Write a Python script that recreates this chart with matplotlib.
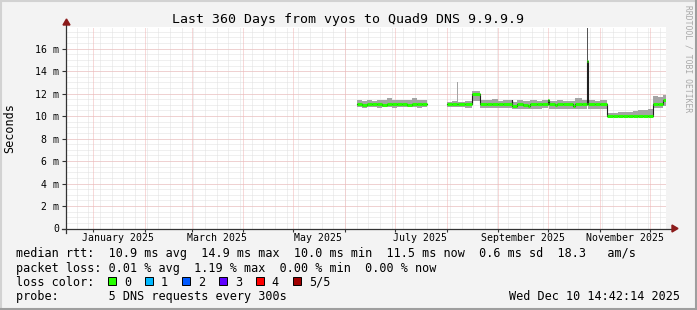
import numpy as np
import pandas as pd
import matplotlib
matplotlib.use("Agg")
import matplotlib.pyplot as plt
from matplotlib.patches import Rectangle

# ---- data (ms), interval starts; NaN marks a gap / end of data ----
starts = [
    "2025-06-08", "2025-06-11", "2025-06-14", "2025-06-17", "2025-06-20",
    "2025-06-23", "2025-06-26", "2025-06-29", "2025-07-02", "2025-07-05",
    "2025-07-08", "2025-07-11", "2025-07-14", "2025-07-17", "2025-07-20",
    "2025-08-01", "2025-08-04", "2025-08-07 12:00", "2025-08-08", "2025-08-12",
    "2025-08-16", "2025-08-21", "2025-08-25", "2025-08-28", "2025-09-01",
    "2025-09-04", "2025-09-09", "2025-09-09 12:00", "2025-09-12", "2025-09-16",
    "2025-09-19", "2025-09-20", "2025-09-24", "2025-09-27", "2025-10-01",
    "2025-10-01 12:00", "2025-10-05", "2025-10-06", "2025-10-10", "2025-10-16",
    "2025-10-17", "2025-10-21", "2025-10-24", "2025-10-25", "2025-10-29",
    "2025-11-01", "2025-11-05", "2025-11-09", "2025-11-12", "2025-11-15",
    "2025-11-18", "2025-11-21", "2025-11-24", "2025-11-27", "2025-11-30",
    "2025-12-03", "2025-12-06", "2025-12-09", "2025-12-10 14:42:14",
]
nan = np.nan
median = [
    11.05, 11.0, 11.05, 11.05, 11.05, 11.0, 11.05, 11.05, 11.05, 11.05,
    11.0, 11.05, 11.05, 11.05, nan,
    11.05, 11.05, 11.05, 11.05, 11.05, 11.95, 11.05, 11.05, 11.05, 11.05,
    11.05, 11.45, 10.87, 11.05, 11.0, 10.9, 11.05, 11.05, 11.05, 11.4,
    11.05, 10.95, 11.05, 11.05, 10.9, 11.05, 11.05, 14.9, 11.05, 11.05,
    11.05, 10.0, 10.0, 9.97, 10.0, 10.0, 10.0, 10.02, 10.0, 10.0,
    11.05, 11.05, 11.45, nan,
]
smoke_hi = [
    11.45, 11.35, 11.45, 11.35, 11.4, 11.4, 11.6, 11.45, 11.4, 11.4,
    11.45, 11.65, 11.4, 11.4, nan,
    11.3, 11.35, 13.05, 11.3, 11.35, 12.2, 11.4, 11.45, 11.55, 11.35,
    11.4, 12.0, 11.3, 11.4, 11.35, 11.35, 11.4, 11.35, 11.4, 11.5,
    11.35, 11.35, 11.4, 11.35, 11.35, 11.6, 11.4, 17.85, 11.45, 11.35,
    11.4, 10.28, 10.3, 10.35, 10.4, 10.37, 10.45, 10.5, 10.58, 10.62,
    11.8, 11.7, 11.85, nan,
]
smoke_lo = [
    10.8, 10.75, 10.8, 10.8, 10.75, 10.8, 10.8, 10.75, 10.8, 10.8,
    10.8, 10.8, 10.75, 10.8, nan,
    10.8, 10.8, 10.8, 10.8, 10.75, 11.35, 10.7, 10.75, 10.7, 10.7,
    10.75, 10.9, 10.6, 10.6, 10.6, 10.6, 10.65, 10.65, 10.7, 10.9,
    10.65, 10.65, 10.65, 10.6, 10.6, 10.65, 10.65, 10.9, 10.65, 10.65,
    10.6, 9.88, 9.88, 9.88, 9.88, 9.88, 9.88, 9.9, 9.9, 9.9,
    10.7, 10.75, 10.9, nan,
]
loss = [0] * 26 + [1] + [0] * 32

# dense smoke of the October spike
burst_start = ["2025-10-24"]
burst_end = ["2025-10-25"]
burst_lo = [11.0]
burst_hi = [17.85]

loss_labels = ["0", "1", "2", "3", "4", "5/5"]
loss_colors = ["#26ff00", "#00b8ff", "#0059ff", "#5e00ff", "#ff0000", "#a00000"]

t_start = pd.Timestamp("2024-12-15 14:42:14")
t_end = pd.Timestamp("2025-12-10 14:42:14")
month_labels = ["2025-01-16", "2025-03-16", "2025-05-16", "2025-07-16", "2025-09-16", "2025-11-16"]

title = "Last 360 Days from vyos to Quad9 DNS 9.9.9.9"
legend_rows = [
    "median rtt:  10.9 ms avg  14.9 ms max  10.0 ms min  11.5 ms now  0.6 ms sd  18.3   am/s",
    "packet loss: 0.01 % avg  1.19 % max  0.00 % min  0.00 % now",
    "loss color:",
    "probe:       5 DNS requests every 300s",
]
stamp = "Wed Dec 10 14:42:14 2025"

# ---- figure ----
W, H = 697, 310
MONO = "DejaVu Sans Mono"
fig = plt.figure(figsize=(W / 100, H / 100), dpi=100, facecolor="#f3f3f3")


def fx(x):
    return x / W


def fy(y):
    return 1 - y / H


# border shades
fig.add_artist(plt.Line2D([0, 1], [fy(0.8), fy(0.8)], color="#d2d2d2", lw=1.5))
fig.add_artist(plt.Line2D([fx(0.8), fx(0.8)], [0, 1], color="#d2d2d2", lw=1.5))
fig.add_artist(plt.Line2D([0, 1], [fy(H - 1), fy(H - 1)], color="#9e9e9e", lw=1.5))
fig.add_artist(plt.Line2D([fx(W - 1), fx(W - 1)], [0, 1], color="#9e9e9e", lw=1.5))

x0, x1, ytop, ybot = 66, 666, 27, 228.5
ax = fig.add_axes([fx(x0), fy(ybot), (x1 - x0) / W, (ybot - ytop) / H])
ax.set_facecolor("white")
ymax = 17.93
ax.set_xlim(t_start, t_end)
ax.set_ylim(0, ymax)
for s in ax.spines.values():
    s.set_visible(False)

# grid
dot = (0, (1, 1))
for d in pd.date_range("2024-12-15", t_end, freq="W-SUN"):
    if d > t_start:
        ax.axvline(d, color="#e0e0e0", lw=0.72, ls=dot, zorder=0)
for v in np.arange(0.5, ymax, 0.5):
    ax.axhline(v, color="#e0e0e0", lw=0.72, ls=dot, zorder=0)
month_starts = pd.date_range("2025-01-01", t_end, freq="MS")
for d in month_starts:
    ax.axvline(d, color="#f0b4b4", lw=0.72, ls=dot, zorder=0.5)
for v in np.arange(2, ymax, 2):
    ax.axhline(v, color="#f0b4b4", lw=0.72, ls=dot, zorder=0.5)

# smoke and median, drawn as steps (value holds until the next start)
t = pd.to_datetime(starts, format="mixed")
med = np.array(median)
hi = np.array(smoke_hi)
lo = np.array(smoke_lo)
xs, ys, ylo, yhi = [], [], [], []
for i in range(len(t) - 1):
    if np.isnan(med[i]):
        xs.append(t[i])
        ys.append(np.nan)
        ylo.append(np.nan)
        yhi.append(np.nan)
        continue
    xs += [t[i], t[i + 1]]
    ys += [med[i], med[i]]
    ylo += [lo[i], lo[i]]
    yhi += [hi[i], hi[i]]
ax.fill_between(xs, ylo, yhi, color="#a4a4a4", lw=0, zorder=2)
for a, b, l, h in zip(pd.to_datetime(burst_start), pd.to_datetime(burst_end), burst_lo, burst_hi):
    ax.fill_between([a, b], l, h, color="#555555", lw=0, zorder=2.5)

ax.plot(xs, ys, color="#202020", lw=0.8, zorder=3)
for i in range(len(t) - 1):
    if np.isnan(med[i]):
        continue
    ax.hlines(med[i], t[i], t[i + 1], color=loss_colors[loss[i]], lw=2.2, zorder=4)

# ticks
ax.set_yticks(np.arange(0, 17, 2))
ax.set_yticklabels(["0"] + [f"{v} m" for v in range(2, 17, 2)])
ax.set_xticks(pd.to_datetime(month_labels))
ax.set_xticklabels([pd.Timestamp(d).strftime("%B %Y") for d in month_labels])
ax.set_xticks(month_starts, minor=True)
ax.tick_params(axis="y", length=3, width=0.8, color="#333333", pad=2, labelsize=7.1)
ax.tick_params(axis="x", which="major", length=0, pad=3, labelsize=7.1)
ax.tick_params(axis="x", which="minor", length=2.5, width=0.8, color="#333333")
for lab in ax.get_xticklabels() + ax.get_yticklabels():
    lab.set_fontfamily(MONO)

# axes with arrows
ax.plot([0, 0], [-0.02, 1.01], transform=ax.transAxes, color="#333333", lw=0.9, clip_on=False, zorder=5)
ax.plot([-0.007, 1.012], [0, 0], transform=ax.transAxes, color="#333333", lw=0.9, clip_on=False, zorder=5)
fig.add_artist(plt.Polygon([[fx(63), fy(25)], [fx(70), fy(25)], [fx(66.5), fy(19)]],
                           closed=True, color="#8b1a1a", transform=fig.transFigure))
fig.add_artist(plt.Polygon([[fx(672), fy(225)], [fx(672), fy(232)], [fx(678), fy(228.5)]],
                           closed=True, color="#8b1a1a", transform=fig.transFigure))

# texts
fig.text(fx(348), fy(19), title, ha="center", va="center", fontsize=9.5, family=MONO)
fig.text(fx(10), fy(128), "Seconds", rotation=90, ha="center", va="center", fontsize=8.5, family=MONO)
fig.text(fx(688), fy(59), "RRDTOOL / TOBI OETIKER", rotation=270, ha="center", va="center",
         fontsize=5.8, family=MONO, color="#a8a8a8")

row_y = [254, 268.5, 282, 296.3]
for s, y in zip(legend_rows, row_y):
    fig.text(fx(16), fy(y), s, ha="left", va="center", fontsize=8.5, family=MONO)
fig.text(fx(680), fy(296.3), stamp, ha="right", va="center", fontsize=8.5, family=MONO)

bx = 108.3
for lab, col in zip(loss_labels, loss_colors):
    fig.patches.append(Rectangle((fx(bx), fy(285.3)), 7.5 / W, 8 / H, transform=fig.transFigure,
                                 fc=col, ec="black", lw=0.7))
    fig.text(fx(bx + 15.5), fy(282), lab, ha="left", va="center", fontsize=8.5, family=MONO)
    bx += 37

fig.savefig("out.png", dpi=100, facecolor=fig.get_facecolor())
